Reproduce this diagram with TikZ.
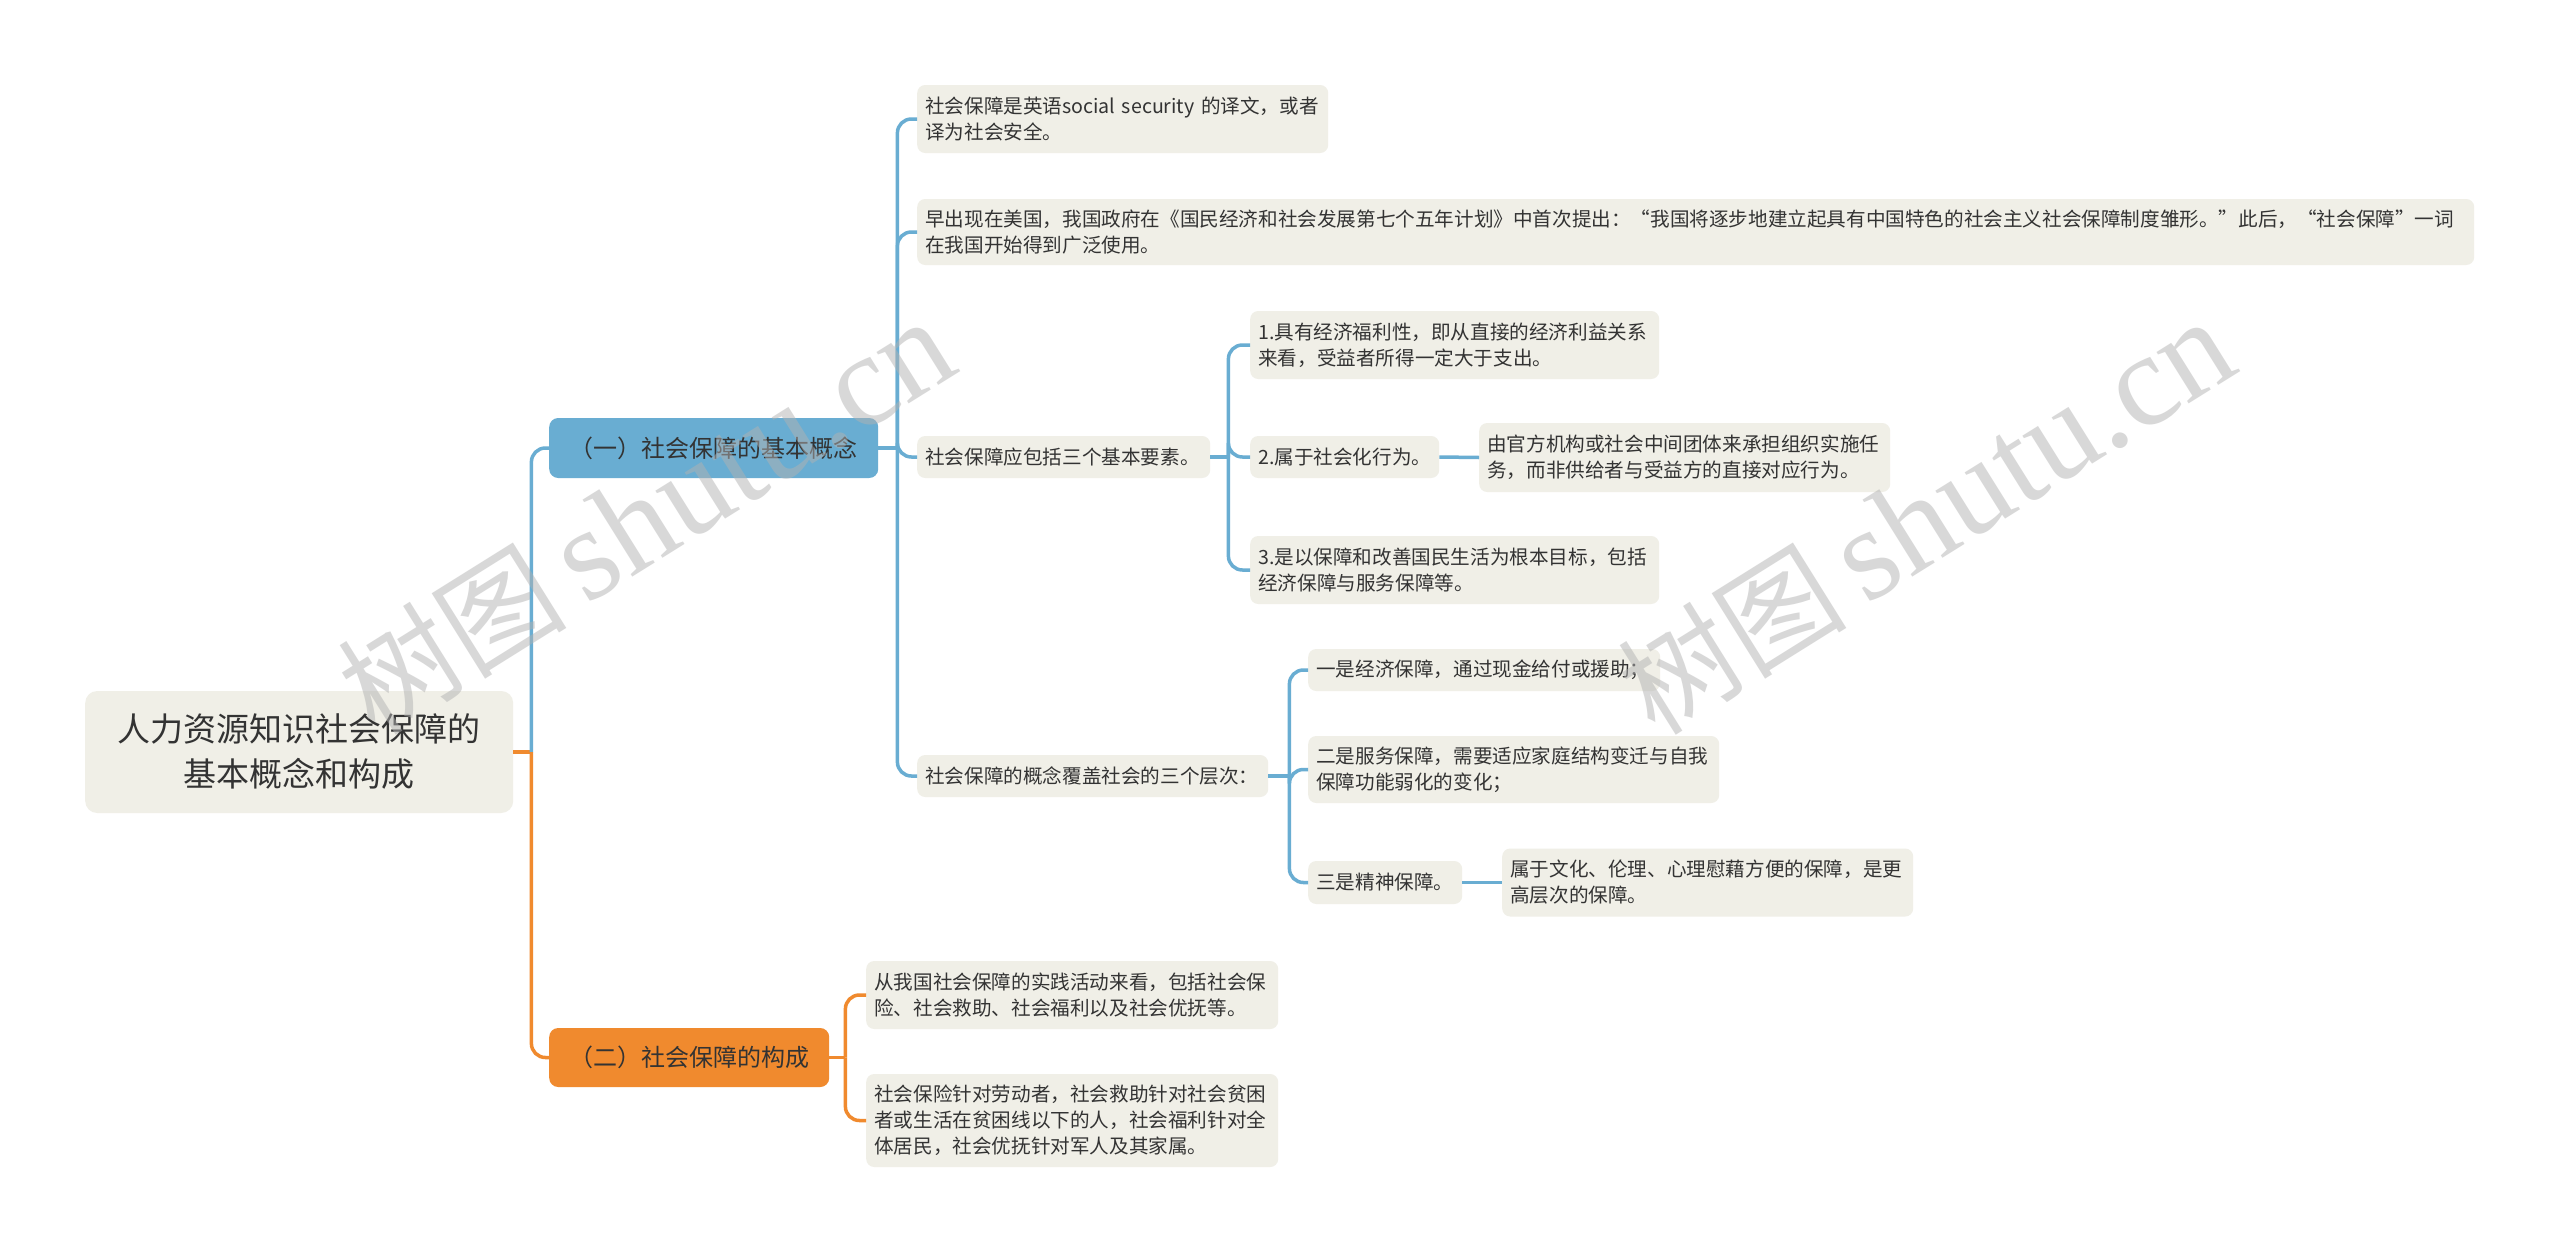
\documentclass[tikz,border=0pt]{standalone}
\usepackage{fontspec}
\setmainfont{Noto Sans CJK SC}
\newfontfamily\wmserif{Liberation Serif}
\usetikzlibrary{calc}
\definecolor{bluec}{HTML}{69ADD2}
\definecolor{orangec}{HTML}{F08A2E}
\definecolor{boxc}{HTML}{F0EFE7}
\definecolor{txtc}{HTML}{333333}
\tikzset{
  leaf/.style={fill=boxc, rounded corners=8pt, anchor=west, inner xsep=8pt, inner ysep=0pt,
    align=left, text=txtc, font=\fontsize{19.6}{26}\selectfont},
  topic/.style={rounded corners=9pt, anchor=west, inner sep=0pt, align=center, text=txtc,
    font=\fontsize{24}{30}\selectfont},
  rootbox/.style={fill=boxc, rounded corners=12pt, anchor=west, inner sep=0pt, align=center,
    text=txtc, font=\fontsize{33}{45}\selectfont},
  bl/.style={draw=bluec, line width=3.5pt, rounded corners=14pt},
  ol/.style={draw=orangec, line width=3.5pt, rounded corners=14pt},
  wmark/.style={text=gray!60, opacity=0.5, rotate=32, inner sep=0pt}
}
\begin{document}
\begin{tikzpicture}[x=1pt,y=-1pt]
\useasboundingbox (0,0) rectangle (2560,1253);
\fill[white] (0,0) rectangle (2560,1253);

% root and topics
\node[rootbox, minimum width=428pt, minimum height=122pt] (root) at (85,752) {人力资源知识社会保障的\\基本概念和构成};
\node[topic, fill=bluec, minimum width=329pt, minimum height=60pt] (b1) at (549,448) {（一）社会保障的基本概念};
\node[topic, fill=orangec, minimum width=280pt, minimum height=59pt] (b2) at (549,1057.5) {（二）社会保障的构成};

% branch 1 children
\node[leaf, text width=395pt, minimum height=68pt] (a1) at (917,119) {社会保障是英语social security 的译文，或者\\译为社会安全。};
\node[leaf, text width=1541pt, minimum height=66pt] (a2) at (917,232) {早出现在美国，我国政府在《国民经济和社会发展第七个五年计划》中首次提出：“我国将逐步地建立起具有中国特色的社会主义社会保障制度雏形。”此后，“社会保障”一词\\在我国开始得到广泛使用。};
\node[leaf, text width=277pt, minimum height=42pt] (a3) at (917,457) {社会保障应包括三个基本要素。};
\node[leaf, text width=335pt, minimum height=42pt] (a4) at (917,776) {社会保障的概念覆盖社会的三个层次：};

\node[leaf, text width=393pt, minimum height=68pt] (p1) at (1250,345) {1.具有经济福利性，即从直接的经济利益关系\\来看，受益者所得一定大于支出。};
\node[leaf, text width=173pt, minimum height=42pt] (p2) at (1250,457) {2.属于社会化行为。};
\node[leaf, text width=393pt, minimum height=68pt] (p3) at (1250,570) {3.是以保障和改善国民生活为根本目标，包括\\经济保障与服务保障等。};
\node[leaf, text width=395pt, minimum height=69pt] (q2) at (1479,457.5) {由官方机构或社会中间团体来承担组织实施任\\务，而非供给者与受益方的直接对应行为。};

\node[leaf, text width=336pt, minimum height=42pt] (d1) at (1308,670) {一是经济保障，通过现金给付或援助；};
\node[leaf, text width=395pt, minimum height=67pt] (d2) at (1308,769.5) {二是服务保障，需要适应家庭结构变迁与自我\\保障功能弱化的变化；};
\node[leaf, text width=138pt, minimum height=43pt] (d3) at (1308,882.5) {三是精神保障。};
\node[leaf, text width=395pt, minimum height=68pt] (e3) at (1502,882.5) {属于文化、伦理、心理慰藉方便的保障，是更\\高层次的保障。};

% branch 2 children
\node[leaf, text width=396pt, minimum height=68pt] (f1) at (866,995) {从我国社会保障的实践活动来看，包括社会保\\险、社会救助、社会福利以及社会优抚等。};
\node[leaf, text width=396pt, minimum height=93pt] (f2) at (866,1120.5) {社会保险针对劳动者，社会救助针对社会贫困\\者或生活在贫困线以下的人，社会福利针对全\\体居民，社会优抚针对军人及其家属。};

% junction points
\coordinate (j0) at ($(root.east)+(18,0)$);
\coordinate (j1) at ($(b1.east)+(19,0)$);
\coordinate (j2) at ($(b2.east)+(16,0)$);
\coordinate (j3) at ($(a3.east)+(18,0)$);
\coordinate (j4) at ($(a4.east)+(21,0)$);

% connectors
\draw[ol] (root.east) -- (j0);
\draw[bl] (j0) |- (b1.west);
\draw[ol] (j0) |- (b2.west);

\draw[bl] (b1.east) -- (j1);
\draw[bl] (j1) |- (a1.west);
\draw[bl] (j1) |- (a2.west);
\draw[bl] (j1) |- (a3.west);
\draw[bl] (j1) |- (a4.west);

\draw[bl] (a3.east) -- (j3);
\draw[bl] (j3) |- (p1.west);
\draw[bl] (j3) |- (p2.west);
\draw[bl] (j3) |- (p3.west);
\draw[bl] (p2.east) -- (q2.west);

\draw[bl] (a4.east) -- (j4);
\draw[bl] (j4) |- (d1.west);
\draw[bl] (j4) |- (d2.west);
\draw[bl] (j4) |- (d3.west);
\draw[bl] (d3.east) -- (e3.west);

\draw[ol] (b2.east) -- (j2);
\draw[ol] (j2) |- (f1.west);
\draw[ol] (j2) |- (f2.west);

% watermarks
\node[wmark] (w1) at (646,517) {\fontsize{115}{115}\selectfont 树图\,{\wmserif\fontsize{132}{132}\selectfont shutu.cn}};
\node[wmark] (w2) at (1926,517) {\fontsize{115}{115}\selectfont 树图\,{\wmserif\fontsize{132}{132}\selectfont shutu.cn}};
\end{tikzpicture}
\end{document}
